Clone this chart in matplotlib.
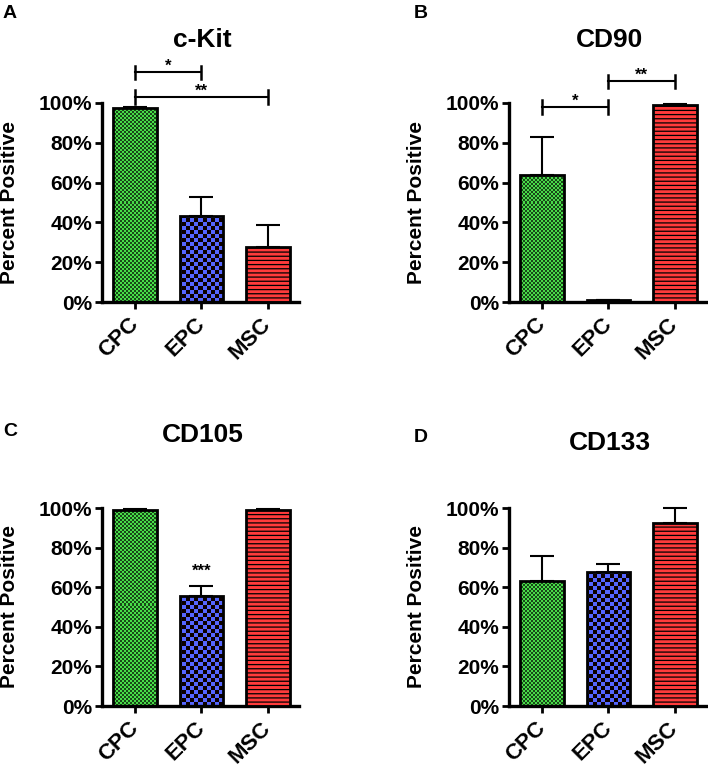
import numpy as np
import matplotlib
matplotlib.use("Agg")
import matplotlib.pyplot as plt

plt.rcParams.update({"font.family": ["Liberation Sans", "DejaVu Sans"],
                     "font.weight": "bold",
                     "hatch.linewidth": 0.9})

# ── data (percent positive, mean and upper SEM) ──────────────────────────
cells = ["CPC", "EPC", "MSC"]
markers = ["c-Kit", "CD90", "CD105", "CD133"]
letters = ["A", "B", "C", "D"]

ckit_mean = [97.5, 43.0, 27.5]
ckit_err = [0.3, 9.8, 11.2]
cd90_mean = [64.0, 0.8, 99.0]
cd90_err = [19.0, 0.0, 0.3]
cd105_mean = [99.0, 55.6, 99.0]
cd105_err = [0.3, 5.0, 0.5]
cd133_mean = [63.0, 67.5, 92.5]
cd133_err = [12.8, 4.3, 7.6]

# significance brackets: (from, to, height, label)
ckit_sig = [(0, 1, 115.5, "*"), (0, 2, 103.0, "**")]
cd90_sig = [(0, 1, 98.0, "*"), (1, 2, 111.0, "**")]
cd105_sig = [(1, 1, 66.0, "***")]
cd133_sig = []

means = [ckit_mean, cd90_mean, cd105_mean, cd133_mean]
errs = [ckit_err, cd90_err, cd105_err, cd133_err]
sigs = [ckit_sig, cd90_sig, cd105_sig, cd133_sig]

GREEN = np.array([0x48, 0xdc, 0x48]) / 255
DKGREEN = np.array([0x18, 0x48, 0x18]) / 255
BLUE = np.array([0x55, 0x66, 0xff]) / 255
RED = "#ff3b3b"
BLACK = np.array([0.05, 0.0, 0.0])

W, H = 708, 767
fig = plt.figure(figsize=(W / 100, H / 100), dpi=100)

# axes boxes in pixels: left, bottom(from top), width, height
boxes = [(102, 302, 197, 199), (509, 302, 197, 199),
         (102, 706, 197, 198), (509, 706, 197, 198)]
title_y = [1.317, 1.317, 1.369, 1.328]
letter_xy = [(10, 14), (421, 14), (10, 432), (421, 437)]


def checker(kind, nh, nw):
    i, j = np.mgrid[0:nh, 0:nw]
    if kind == 0:      # fine green checker
        m = ((i // 2) + (j // 2)) % 2 == 0
        a, b = GREEN, DKGREEN
    else:              # blue checker
        m = ((i // 4) + (j // 4)) % 2 == 0
        a, b = BLUE, BLACK
    return np.where(m[..., None], a, b)


def fill_bar(ax, bar, kind, npx_w, npx_h):
    # texture covering the whole axes at 1:1 pixel size, clipped to the bar
    img = checker(kind, npx_h, npx_w)
    x0, x1 = ax.get_xlim()
    y0, y1 = ax.get_ylim()
    im = ax.imshow(img, extent=(x0, x1, y0, y1), origin="lower",
                   interpolation="nearest", aspect="auto", zorder=2)
    im.set_clip_path(bar)


for k in range(4):
    l, b, w, h = boxes[k]
    ax = fig.add_axes([l / W, (H - b) / H, w / W, h / H])
    x = np.arange(len(cells))
    ax.set_xlim(-0.5, 2.47)
    ax.set_ylim(0, 100)

    ax.errorbar(x, means[k], yerr=[np.zeros(3), errs[k]], fmt="none",
                ecolor="black", elinewidth=1.5, capsize=8.3, capthick=1.5,
                zorder=1, clip_on=False)
    bars = ax.bar(x, means[k], width=0.66, facecolor="none",
                  edgecolor="black", linewidth=2.0, zorder=3)
    for kind in (0, 1):
        fill_bar(ax, bars[kind], kind, w, h)
    # MSC: red with thin horizontal black stripes
    bars[2].set_facecolor(RED)
    bars[2].set_hatch("----")
    ax.set_xlim(-0.5, 2.47)
    ax.set_ylim(0, 100)

    for (a, c, yy, lab) in sigs[k]:
        if a != c:
            ax.plot([a, c], [yy, yy], color="black", lw=1.5, clip_on=False)
            for xe in (a, c):
                ax.plot([xe, xe], [yy - 3.3, yy + 3.3], color="black",
                        lw=1.8, clip_on=False)
            ax.text((a + c) / 2, yy + 0.8, lab, ha="center", va="baseline",
                    fontsize=12, fontweight="bold", clip_on=False)
        else:
            ax.text(a, yy, lab, ha="center", va="baseline",
                    fontsize=12, fontweight="bold")

    ax.set_yticks([0, 20, 40, 60, 80, 100])
    ax.set_yticklabels([f"{v}%" for v in [0, 20, 40, 60, 80, 100]],
                       fontsize=15, fontweight="bold")
    ax.set_xticks(x)
    ax.set_xticklabels(cells, fontsize=16, fontweight="bold", rotation=45,
                       ha="right", va="center", rotation_mode="anchor")
    ax.tick_params(axis="both", direction="out", length=5, width=2.0)
    ax.tick_params(axis="x", pad=8.5)
    ax.tick_params(axis="y", pad=2)
    for s in ("top", "right"):
        ax.spines[s].set_visible(False)
    for s in ("left", "bottom"):
        ax.spines[s].set_linewidth(2.4)

    ax.set_ylabel("Percent Positive", fontsize=15, fontweight="bold")
    ax.yaxis.set_label_coords(-0.42, 0.5)

    ax.text(0.51, title_y[k], markers[k], transform=ax.transAxes,
            ha="center", va="center", fontsize=19, fontweight="bold")
    lx, ly = letter_xy[k]
    fig.text(lx / W, 1 - ly / H, letters[k], ha="center", va="center",
             fontsize=14, fontweight="bold")

fig.savefig("out.png", dpi=100)
